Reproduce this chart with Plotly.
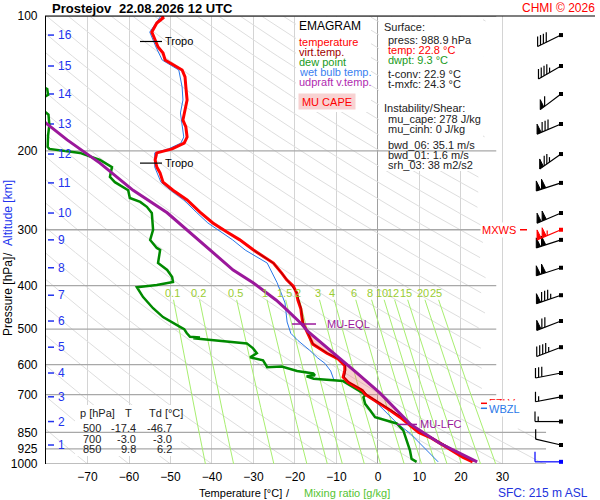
import numpy as np
import plotly.graph_objects as go

# ---- sounding (hPa, degC) ----
temp_p = [988.9, 966.5, 918, 871.8, 850, 811, 786, 759, 735, 700, 685, 657, 640, 618, 603,
          583, 566, 540, 500, 485, 465, 450, 431, 415, 401, 388, 375, 356, 333, 316,
          303.5, 289.7, 274, 257.4, 244.8, 234.9, 224.1, 217.4, 209.6, 202.1, 198, 192.2,
          186.3, 176.9, 170.7, 164.6, 154, 144, 136.8, 132, 128.6, 125.4, 120.9, 117.3,
          113.1, 108.6, 103.7, 101, 100]
temp_t = [22.8, 20.5, 16.6, 12.5, 9.8, 7.0, 5.3, 2.9, 0.5, -3.0, -3.8, -7.2, -8.4, -8.0, -8.0,
          -9.6, -12.3, -15.7, -17.4, -18.1, -18.4, -18.6, -19.3, -19.6, -20.4, -22.0, -23.2, -25.2, -30.0, -33.3,
          -36.4, -39.8, -42.9, -46.0, -49.4, -51.8, -52.5, -53.3, -53.7, -53.3, -49.6, -46.7,
          -46.0, -46.3, -47.0, -46.7, -46.0, -46.3, -46.5, -47.2, -49.4, -51.3, -51.8, -53.0,
          -53.7, -54.5, -53.3, -51.8, -52.0]

virt_p = [988.9, 966.5, 918, 871.8, 850, 811, 786, 759, 735, 700, 685, 657, 640, 618, 603,
          583, 566, 540, 500, 485, 450, 415, 388, 356, 333]
virt_t = [23.4, 21.1, 17.2, 13.0, 10.3, 7.5, 5.8, 3.3, 0.9, -2.7, -3.5, -6.9, -8.1, -7.8, -7.8,
          -9.4, -12.1, -15.6, -17.3, -18.0, -18.5, -19.5, -21.9, -25.2, -30.0]

dew_p = [988.9, 974, 932, 885, 850, 841, 812, 799, 786, 759, 734, 710, 700, 653, 650,
         645, 637, 634, 628, 620, 606, 608, 587, 578, 566, 552, 538, 530, 524, 522,
         520, 510, 500, 494, 470, 449, 424, 403, 398.5, 392.4, 382.4, 368.8, 355.9, 332.8, 329.4,
         316.2, 300.3, 275.3, 266.6, 260, 254.8, 244.8, 234.9, 228.6, 217.4, 209.6, 202.1, 198, 196,
         185, 175, 166, 163, 160, 153, 150, 145.5, 143.5]
dew_t = [9.3, 8.1, 7.7, 6.9, 6.2, 6.1, 4.5, 2.1, -0.7, -1.9, -3.1, -3.5, -3.0, -8.4, -10.8,
         -15.5, -17.2, -15.2, -15.6, -19.5, -23.2, -26.7, -27.7, -30.8, -29.2, -30.1, -31.6, -38.9, -44.5, -42.9,
         -45.3, -46.1, -46.7, -47.7, -51.8, -54.2, -56.6, -58.1, -53.3, -49.4, -49.6, -50.8, -53.0, -52.5, -53.3,
         -54.9, -54.2, -54.5, -55.7, -57.3, -59.8, -60.2, -63.4, -64.6, -64.1, -67.0, -71.8, -79.2, -79.6,
         -79.5, -79.2, -79.4, -80.5, -85, -81, -79.5, -79.7, -81]

wb_p = [988.9, 947, 899, 854, 811, 770, 732, 685, 654, 650, 640, 620, 596, 580, 557,
        530, 511, 494, 482, 437, 394, 356, 345, 333, 316.2, 303.5, 289.7, 274, 257.4, 244.8,
        234.9, 217.4, 202.1, 198, 192.2, 186.3, 176.9, 164.6, 154, 144, 132, 125.4, 117.3, 108.6, 100]
wb_t = [14.5, 12.5, 10.1, 7.7, 4.6, 2.2, -0.2, -4.3, -8.4, -10.6, -10.9, -11.4, -12.8, -14.5, -16.5,
        -19.3, -21.0, -21.5, -21.9, -22.4, -24.3, -26.7, -29.2, -32.0, -35.0, -37.8, -41.0, -43.8, -46.8, -50.0,
        -52.3, -53.8, -53.8, -50.5, -47.5, -46.8, -47.2, -47.6, -47.0, -47.2, -48.0, -52.0, -53.5, -55.0, -52.3]

parcel_p = [988.9, 899, 816, 770, 695, 626, 566, 506, 487, 461, 447, 431, 394, 369, 329,
            275, 245, 213, 189, 173, 165]
parcel_t = [23.9, 14.9, 7.9, 5.3, 0.5, -5.1, -10.8, -16.9, -18.4, -21.0, -22.6, -24.5, -30.1, -34.9, -41.2,
            -50.8, -59.0, -67.0, -74.9, -80.2, -83.0]

LFC_P = 816
EQL_P = 487
TROPO_P = [114, 213]
FZLV_P = 732
WBZL_P = 751
MXWS_P = 300

alt_km = list(range(1, 17))
alt_p = [907, 804, 708, 626.5, 548.6, 479.6, 420, 364.7, 316, 275.3, 235.8, 203.3, 174.2, 149.3, 129.3, 110.3]

wind_p = [988.9, 907, 804, 708, 626.5, 548.6, 479.6, 420, 364.7, 316, 300, 275.3, 235.8, 203.3, 174.2,
          149.3, 129.3, 110.3]
wind_dir = [270, 283, 270, 259, 259, 249, 249, 251, 252, 252, 247, 247, 252, 235, 247, 233, 240, 244]
wind_spd = [10, 10, 15, 15, 30, 45, 70, 85, 100, 100, 105, 100, 100, 75, 80, 60, 45, 40]

isobars = [100, 200, 300, 400, 500, 600, 700, 850, 925, 1000]
mixr = [0.1, 0.2, 0.5, 1, 1.5, 2, 3, 4, 6, 8, 10, 12, 15, 20, 25]
theta_c = list(range(-80, 320, 10))

table_p = [500, 700, 850]
table_t = [-17.4, -3.0, 9.8]
table_td = [-46.7, -3.0, 6.2]

# ---- pixel <-> data helpers (plot area 46..600 x 16..464) ----
L, R, TOP, BOT = 46, 600, 16, 464
T_MIN, T_MAX = -80, 53.5


def px2t(x):
    return T_MIN + (x - L) * (T_MAX - T_MIN) / (R - L)


def py2p(y):
    return 10 ** (2 + (y - TOP) / (BOT - TOP))


def p2py(p):
    return TOP + (BOT - TOP) * (np.log10(p) - 2)


def xp(x):
    return (x - L) / (R - L)


def yp(y):
    return (BOT - y) / (BOT - TOP)


def mixr_td(w, p):
    e = w * p / (622.0 + w)
    a = np.log(e / 6.112)
    return 243.5 * a / (17.67 - a)


FONT = "Liberation Sans, Arial, sans-serif"
fig = go.Figure()


def add_line(x, y, color, width, **kw):
    fig.add_trace(go.Scatter(x=x, y=y, mode="lines", line=dict(color=color, width=width),
                             hoverinfo="skip", showlegend=False, **kw))


# dry adiabats
pp = np.geomspace(100, 1000, 90)
ax, ay = [], []
for th in theta_c:
    tt = (th + 273.15) * (pp / 1000.0) ** 0.2857 - 273.15
    for t, p in zip(tt, pp):
        lim = 40.0 if p >= 820 else 26.0
        if t <= lim:
            ax.append(t); ay.append(p)
        else:
            ax.append(None); ay.append(None)
    ax.append(None); ay.append(None)
add_line(ax, ay, "#dedede", 1)

# white text boxes (hide adiabats and isotherms)
bx, by = [], []
for x0, x1, y0, y1 in [(296, 371, 17, 112), (379, 483, 17, 171), (75, 181, 405, 456)]:
    bx += [px2t(x0), px2t(x1), px2t(x1), px2t(x0), px2t(x0), None]
    by += [py2p(y0), py2p(y0), py2p(y1), py2p(y1), py2p(y0), None]
fig.add_trace(go.Scatter(x=bx, y=by, mode="lines", fill="toself", fillcolor="white",
                         line=dict(width=0), hoverinfo="skip", showlegend=False))

# isobars
ix, iy = [], []
for p in isobars:
    t_end = 40.5 if p >= 850 else 28.5
    ix += [T_MIN, t_end, None]
    iy += [p, p, None]
add_line(ix, iy, "#a8a8a8", 1.3)

# mixing ratio lines
mp = np.geomspace(430, 1000, 30)
mx, my = [], []
for w in mixr:
    mx += list(mixr_td(w, mp)) + [None]
    my += list(mp) + [None]
add_line(mx, my, "#a8ee70", 1)

# altitude tick dashes
hx, hy = [], []
for p in alt_p:
    hx += [px2t(48), px2t(54), None]
    hy += [p, p, None]
add_line(hx, hy, "#2233ee", 1.5)

# CAPE area
cape_x = [t for p, t in zip(parcel_p, parcel_t) if EQL_P <= p <= LFC_P]
cape_y = [p for p in parcel_p if EQL_P <= p <= LFC_P]
seg = [(p, t) for p, t in zip(temp_p, temp_t) if EQL_P <= p <= LFC_P][::-1]
cape_x += [t for p, t in seg]
cape_y += [p for p, t in seg]
fig.add_trace(go.Scatter(x=cape_x, y=cape_y, mode="lines", fill="toself",
                         fillcolor="rgba(240,120,120,0.35)", line=dict(width=0),
                         hoverinfo="skip", showlegend=False))

# profiles
add_line(wb_t, wb_p, "#2a78e8", 1)
add_line(dew_t, dew_p, "#008a00", 2.5)
add_line(temp_t, temp_p, "#ff0000", 3)
add_line(virt_t, virt_p, "#a00000", 1)
add_line(parcel_t, parcel_p, "#9b189b", 3)

# level markers
lx, ly = [], []
for p in TROPO_P:
    lx += [px2t(140), px2t(162), None]
    ly += [p, p, None]
add_line(lx, ly, "black", 1.2)
add_line([px2t(292), px2t(316)], [EQL_P, EQL_P], "#9b189b", 1.5)
add_line([px2t(397), px2t(417)], [LFC_P, LFC_P], "#9b189b", 1.5)
add_line([px2t(481), px2t(487)], [FZLV_P, FZLV_P], "#ff0000", 1.5)
add_line([px2t(481), px2t(487)], [WBZL_P, WBZL_P], "#2a78e8", 1.5)
add_line([px2t(520), px2t(527)], [MXWS_P, MXWS_P], "#ff0000", 1.5)


# wind barbs
def barb(p, d, spd):
    x0, y0 = 561.0, p2py(p)
    r = np.radians(d)
    sx, sy = np.sin(r), -np.cos(r)
    xe, ye = x0 + 26 * sx, y0 + 26 * sy
    segs = [(x0, y0), (xe, ye), None]
    flags = []
    n50, rem = divmod(spd, 50)
    n10, rem = divmod(rem, 10)
    n5 = 1 if rem >= 5 else 0
    pos = 0.0
    for _ in range(n50):
        a = (xe - pos * sx, ye - pos * sy)
        b = (xe - (pos + 4.5) * sx, ye - (pos + 4.5) * sy)
        flags += [a, (a[0], a[1] - 10), b, None]
        pos += 5.5
    for _ in range(n10):
        a = (xe - pos * sx, ye - pos * sy)
        segs += [a, (a[0], a[1] - 10), None]
        pos += 3.2
    for _ in range(n5):
        a = (xe - pos * sx, ye - pos * sy)
        segs += [a, (a[0], a[1] - 5), None]
    return segs, flags


def to_data(pts):
    xs = [None if q is None else px2t(q[0]) for q in pts]
    ys = [None if q is None else py2p(q[1]) for q in pts]
    return xs, ys


for i, (p, d, s) in enumerate(zip(wind_p, wind_dir, wind_spd)):
    col = "black"
    if p == MXWS_P:
        col = "#ff0000"
    elif i == 0:
        col = "#0000ff"
    segs, flags = barb(p, d, s)
    xs, ys = to_data(segs)
    add_line(xs, ys, col, 1.2)
    if flags:
        fx, fy = to_data(flags)
        fig.add_trace(go.Scatter(x=fx, y=fy, mode="lines", fill="toself", fillcolor=col,
                                 line=dict(color=col, width=1), hoverinfo="skip", showlegend=False))
    fig.add_trace(go.Scatter(x=[px2t(561)], y=[p], mode="markers",
                             marker=dict(symbol="square", size=4, color=col),
                             hoverinfo="skip", showlegend=False))

# ---- annotations ----
ann = []


def txt(x, y, s, color="black", size=11, anchor="left", yref="paper", **kw):
    ann.append(dict(x=x, y=y, xref="paper", yref=yref, text=s, showarrow=False,
                    xanchor=anchor, yanchor="middle", font=dict(color=color, size=size, family=FONT), **kw))


txt(xp(50), yp(8), "<b>Prostejov</b>", size=13)
txt(xp(117), yp(8), "<b>22.08.2026 12 UTC</b>", size=13)
txt(xp(597), yp(8), "CHMI © 2026", "#ff0000", 12, "right")

# legend
txt(xp(297), yp(26), "EMAGRAM", size=12)
for y, s, c in [(42, "temperature", "#ff0000"), (52, "virt.temp.", "#a00000"),
                (62, "dew point", "#1a9a1a"), (72, "wet bulb temp.", "#3a7ff0"),
                (82, "udpraft v.temp.", "#b02ab0")]:
    txt(xp(297), yp(y), s, c)
txt(xp(327), yp(101), "MU CAPE", "#ff0000", anchor="center", bgcolor="#f8d2d2",
    width=54, height=13, borderpad=1)

# surface box
for x, y, s, c in [(382, 27, "Surface:", "#222"), (386, 40, "press: 988.9 hPa", "#222"),
                   (386, 50, "temp: 22.8 °C", "#ff0000"), (386, 60, "dwpt: 9.3 °C", "#1a9a1a"),
                   (386, 74, "t-conv: 22.9 °C", "#222"), (386, 84, "t-mxfc: 24.3 °C", "#222"),
                   (382, 108, "Instability/Shear:", "#222"), (386, 119, "mu_cape: 278 J/kg", "#222"),
                   (386, 129, "mu_cinh: 0 J/kg", "#222"), (386, 145, "bwd_06: 35.1 m/s", "#222"),
                   (386, 155, "bwd_01: 1.6 m/s", "#222"), (386, 165, "srh_03: 38 m2/s2", "#222")]:
    txt(xp(x), yp(y), s, c)

# table
txt(xp(78), yp(413), "p [hPa]", "#222")
txt(xp(128), yp(413), "T", "#222", anchor="center")
txt(xp(147), yp(413), "Td [°C]", "#222")
for k, (p, t, td) in enumerate(zip(table_p, table_t, table_td)):
    y = yp(428 + k * 10.5)
    txt(xp(103), y, str(p), "#222", anchor="right")
    txt(xp(138), y, f"{t:.1f}", "#222", anchor="right")
    txt(xp(174), y, f"{td:.1f}", "#222", anchor="right")

# level labels
for p in TROPO_P:
    txt(xp(163), np.log10(p), "Tropo", yref="y")
txt(xp(325), np.log10(EQL_P), "MU-EQL", "#9b189b", yref="y")
txt(xp(418), np.log10(LFC_P), "MU-LFC", "#9b189b", yref="y")
txt(xp(487), np.log10(FZLV_P), "FZLV", "#ff0000", yref="y")
txt(xp(487), np.log10(WBZL_P) + 0.0015, "WBZL", "#2a78e8", yref="y", bgcolor="white",
    width=36, height=13, borderpad=1, align="left")
txt(xp(518), np.log10(MXWS_P), "MXWS", "#ff0000", anchor="right", yref="y", bgcolor="white")

# altitude labels
for km, p in zip(alt_km, alt_p):
    txt(xp(56), np.log10(p), str(km), "#2233ee", 12, yref="y")

# mixing ratio labels
for w in mixr:
    ann.append(dict(x=mixr_td(w, 415), y=np.log10(415), xref="x", yref="y", text=f"{w:g}",
                    showarrow=False, xanchor="center", yanchor="middle",
                    font=dict(color="#9acd32", size=11, family=FONT)))

# axis titles
txt(xp(8), yp(297), "Pressure [hPa]", size=12, anchor="center", textangle=-90)
txt(xp(8), yp(254), "/", size=12, anchor="center", textangle=-90)
txt(xp(8), yp(213), "Altitude [km]", "#2233ee", 12, "center", textangle=-90)
txt(xp(197), yp(493), "Temperature [°C]", size=11)
txt(xp(288), yp(493), "/", size=11, anchor="center")
txt(xp(302), yp(493), "Mixing ratio [g/kg]", "#55c433", 11)
txt(xp(590), yp(493), "SFC: 215 m ASL", "#2233dd", 12, "right")

fig.update_layout(
    width=600, height=500,
    margin=dict(l=L, r=0, t=TOP, b=500 - BOT),
    paper_bgcolor="white", plot_bgcolor="white",
    font=dict(family=FONT, size=12, color="black"),
    showlegend=False,
    annotations=ann,
    shapes=[dict(type="line", xref="paper", yref="paper", x0=xp(45), x1=xp(595), y0=1, y1=1,
                 line=dict(color="black", width=1.2))],
    xaxis=dict(range=[T_MIN, T_MAX], tickvals=list(range(-70, 31, 10)), showgrid=True,
               gridcolor="#d4d4d4", gridwidth=1, zeroline=True, zerolinecolor="#a0a0a0",
               zerolinewidth=1, showline=False, ticks="", ticklabelstandoff=4,
               tickfont=dict(size=12), automargin=False, fixedrange=True),
    yaxis=dict(type="log", range=[3, 2], tickvals=isobars, ticktext=[str(p) for p in isobars],
               showgrid=False, zeroline=False, showline=True, linecolor="black", linewidth=1.2,
               ticks="", ticklabelstandoff=5, tickfont=dict(size=12), automargin=False,
               fixedrange=True),
)

# the page's default body margin would shift the 600x500 figure out of the window
fig.write_html("out.html", config={"displayModeBar": False},
               post_script="document.body.style.margin='0';document.body.style.overflow='hidden';")
